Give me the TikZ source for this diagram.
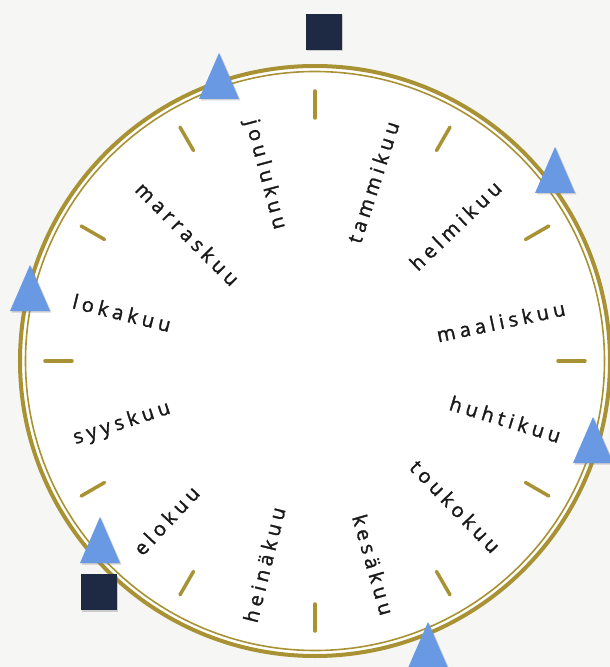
\documentclass[tikz,border=0pt]{standalone}
\usepackage{fontspec}
\newfontfamily\kuufont[LetterSpace=22,FakeBold=1.4]{Open Sans}
\usepackage{tikz}
\usetikzlibrary{shadows}
\definecolor{ringGold}{RGB}{168,146,52}
\definecolor{markBlue}{RGB}{104,153,226}
\definecolor{markNavy}{RGB}{30,41,68}
\definecolor{paperBg}{RGB}{246,246,244}

\begin{document}
\begin{tikzpicture}[x=1pt,y=1pt,
  kuu/.style={font=\kuufont\fontsize{20}{20}\selectfont,text=black!90,inner sep=0pt},
  tickmark/.style={ringGold,line width=3.5pt,line cap=round},
  tri/.style={fill=markBlue,drop shadow={shadow xshift=1.5pt,shadow yshift=-1.5pt,opacity=0.35}},
  sq/.style={fill=markNavy,drop shadow={shadow xshift=1.5pt,shadow yshift=-1.5pt,opacity=0.35}}]
  \fill[paperBg] (-315,-306) rectangle (295,361);
  \useasboundingbox (-315,-306) rectangle (295,361);

  % ring
  \fill[white] (0,0) circle (296);
  \draw[ringGold,line width=4pt] (0,0) circle (295);
  \draw[ringGold,line width=1.6pt] (0,0) circle (289.5);
  \foreach \a in {0,30,...,330}
    \draw[tickmark] (\a:243) -- (\a:270);

  % months, right half
  \foreach \name/\a/\r [count=\i] in {tammikuu/72/188, helmikuu/44/195, maaliskuu/12/190,
      huhtikuu/-17/199, toukokuu/-46/202, kesäkuu/-74/212}
    \node[kuu,rotate=\a] (kuu\i) at (\a:\r) {\name};

  % months, left half
  \foreach \name/\a/\r [count=\i from 7] in {heinäkuu/-104/210, elokuu/-133/218, syyskuu/-162/203,
      lokakuu/166/199, marraskuu/135/180, joulukuu/105/193}
    \node[kuu,rotate=\a+180] (kuu\i) at (\a:\r) {\name};

  % markers
  \foreach \x/\y in {-96/285, 240/191, -285/73, 278/-79, -215/-179, 113/-284}
    \fill[tri] (\x,\y) ++(0,23) -- ++(20,-46) -- ++(-40,0) -- cycle;
  \foreach \x/\y in {9/329, -216/-231}
    \fill[sq] (\x,\y) +(-18,-18) rectangle +(18,18);
\end{tikzpicture}
\end{document}
